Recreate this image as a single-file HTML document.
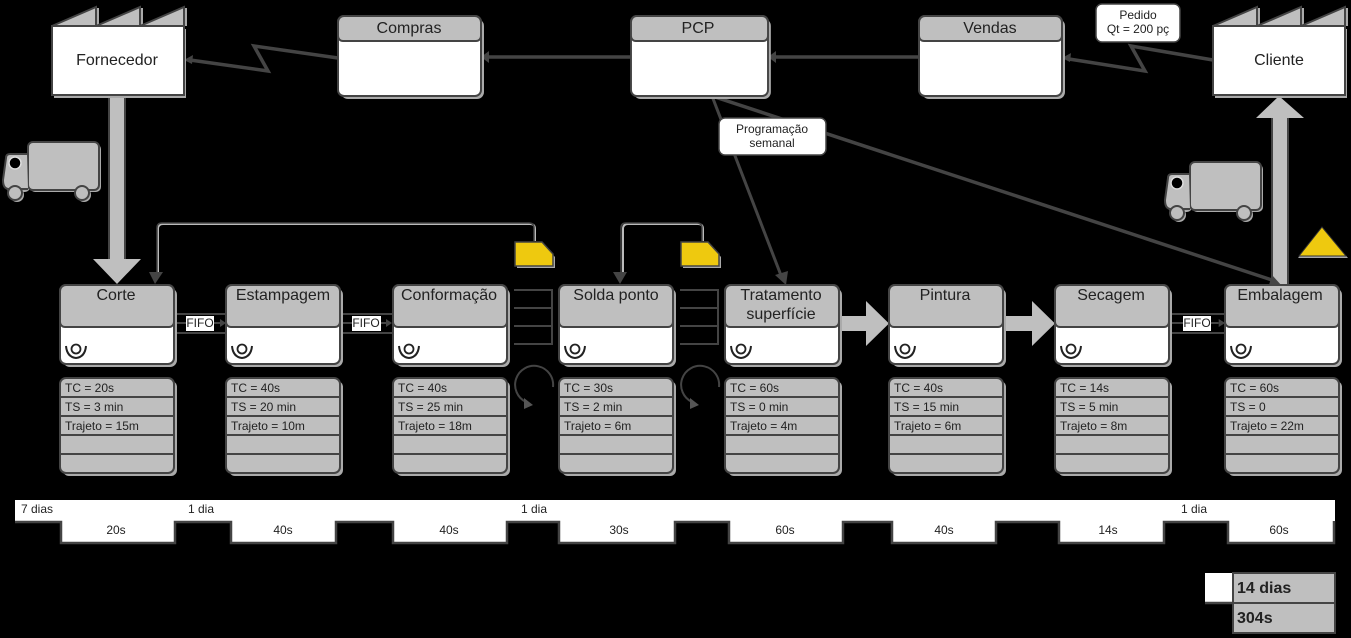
<!DOCTYPE html>
<html><head><meta charset="utf-8"><style>
html,body{margin:0;padding:0;background:#000;width:1351px;height:638px;overflow:hidden}
svg{display:block}
text{font-family:"Liberation Sans",sans-serif;fill:#222}
.t{font-size:16px;text-anchor:middle}
.d{font-size:12px}
.c{font-size:12px;text-anchor:middle}
.l{fill:none;stroke:#444;stroke-width:3.5}
.m{fill:none;stroke:#444;stroke-width:2}
</style></head><body>
<svg width="1351" height="638" viewBox="0 0 1351 638" xmlns="http://www.w3.org/2000/svg">
<defs>
<g id="proc">
<rect x="3" y="3" width="114" height="79" rx="7" fill="#aaa"/>
<rect x="0" y="0" width="114" height="79" rx="6" fill="#fff" stroke="#444" stroke-width="2"/>
<path d="M0 6a6 6 0 0 1 6-6h102a6 6 0 0 1 6 6v31a5 5 0 0 1-5 5H5a5 5 0 0 1-5-5z" fill="#bfbfbf" stroke="#444" stroke-width="2"/>
<path d="M6 61q1 11 10 12q9-1 10-12" fill="none" stroke="#222" stroke-width="2"/>
<circle cx="16" cy="64" r="4.500" fill="none" stroke="#222" stroke-width="1.800"/>
</g>
<g id="data">
<rect x="3" y="3" width="114" height="95" rx="6" fill="#aaa"/>
<rect x="0" y="0" width="114" height="95" rx="6" fill="#bfbfbf" stroke="#444" stroke-width="2"/>
<path d="M0 19h114M0 38h114M0 57h114M0 76h114" stroke="#444" stroke-width="2"/>
</g>
<g id="fact">
<rect x="2" y="23" width="132" height="69" fill="#aaa"/>
<rect x="44" y="2" width="3" height="18" fill="#aaa"/>
<rect x="88" y="2" width="3" height="18" fill="#aaa"/>
<rect x="132" y="2" width="3" height="18" fill="#aaa"/>
<path d="M0 20L44 1V20L88 1V20L132 1V20Z" fill="#bfbfbf" stroke="#444" stroke-width="2"/>
<rect x="0" y="20" width="132" height="69" fill="#fff" stroke="#444" stroke-width="2"/>
</g>
<g id="top">
<rect x="3" y="3" width="143" height="80" rx="7" fill="#aaa"/>
<rect x="0" y="0" width="143" height="80" rx="6" fill="#fff" stroke="#444" stroke-width="2"/>
<path d="M0 6a6 6 0 0 1 6-6h131a6 6 0 0 1 6 6v14a5 5 0 0 1-5 5H5a5 5 0 0 1-5-5z" fill="#bfbfbf" stroke="#444" stroke-width="2"/>
</g>
<g id="truck">
<g fill="#aaa" transform="translate(2,2)">
<rect x="25" y="0" width="71" height="48" rx="5"/><rect x="1" y="12" width="24" height="36" rx="5"/>
<circle cx="12" cy="51" r="7"/><circle cx="79" cy="51" r="7"/></g>
<rect x="25" y="0" width="71" height="48" rx="5" fill="#bfbfbf" stroke="#444" stroke-width="2"/>
<path d="M24 12H7q-4 0-4 4L0 38q0 9 6 9H25" fill="#bfbfbf" stroke="#444" stroke-width="2"/>
<circle cx="12" cy="21" r="6" fill="#000" stroke="#ddd" stroke-width="1.500"/>
<circle cx="12" cy="51" r="7" fill="#bfbfbf" stroke="#444" stroke-width="2"/>
<circle cx="79" cy="51" r="7" fill="#bfbfbf" stroke="#444" stroke-width="2"/>
</g>
<g id="kan">
<path d="M2 2H29L40 15V26H2Z" fill="#aaa"/>
<path d="M0 0H27L38 12V24H0Z" fill="#eec90f" stroke="#444" stroke-width="1.500"/>
</g>
<g id="sm"><path d="M0 0H38V54H0M0 18H38M0 36H38" class="m"/></g>
<g id="fifo"><path d="M0 0H52M0 9H46M0 19H52" class="m"/><path d="M46 5l6 4-6 4z" fill="#444"/></g>
<g id="circ"><path d="M19 0A19 19 0 1 0-8 15" fill="none" stroke="#444" stroke-width="2"/><path d="M-10 11L-1 18-10 22z" fill="#555"/></g>
<g id="push"><path d="M0 8H26V-7L49 15.500 26 38V23H0Z" fill="#bfbfbf"/></g>
</defs>

<rect width="1351" height="638" fill="#000"/>

<!-- connectors -->
<path d="M338 58L254 46 268 71 190 60" class="l"/><path d="M184 60l9-5-1 9z" fill="#444"/>
<path d="M1213 60L1131 46 1145 71 1069 59" class="l"/><path d="M1062 58l9-5-1 9z" fill="#444"/>
<path d="M631 57H485" class="l"/><path d="M481 57l8-6v12z" fill="#444"/>
<path d="M919 57H772" class="l"/><path d="M768 57l8-6v12z" fill="#444"/>

<!-- big arrows -->
<path d="M109 96H125V259H141L117 284 93 259H109Z" fill="#bfbfbf"/>
<path d="M109 96V259M125 96V259" stroke="#444" stroke-width="2"/>
<path d="M1272 285V118H1256L1279 96 1304 118H1288V285Z" fill="#bfbfbf"/>
<path d="M1272 285V118M1288 285V118" stroke="#444" stroke-width="2"/>

<path d="M712 96L1272 280" class="l"/>
<path d="M1282 286L1268 288 1272 275z" fill="#444"/>
<path d="M712 96L782 278" class="l" style="stroke-width:3"/>
<path d="M786 285L775 275 788 271z" fill="#444"/>

<!-- factories -->
<use href="#fact" x="52" y="6"/>
<use href="#fact" x="1213" y="6"/>
<text class="t" x="117" y="65">Fornecedor</text>
<text class="t" x="1279" y="65">Cliente</text>

<!-- top boxes -->
<use href="#top" x="338" y="16"/>
<g transform="translate(631,16) scale(.958,1)"><use href="#top"/></g>
<use href="#top" x="919" y="16"/>
<text class="t" x="409" y="33">Compras</text>
<text class="t" x="698" y="33">PCP</text>
<text class="t" x="990" y="33">Vendas</text>

<!-- notes -->
<rect x="1096" y="4" width="84" height="38" rx="6" fill="#fff" stroke="#444" stroke-width="1.500"/>
<text class="c" x="1138" y="19">Pedido</text>
<text class="c" x="1138" y="33">Qt = 200 pç</text>
<rect x="719" y="118" width="107" height="37" rx="6" fill="#fff" stroke="#444" stroke-width="1.500"/>
<text class="c" x="772" y="133">Programação</text>
<text class="c" x="772" y="147">semanal</text>

<!-- trucks -->
<use href="#truck" x="3" y="142"/>
<use href="#truck" x="1165" y="162"/>

<!-- feedback -->
<path d="M158 272V229q0-5 5-5H530q5 0 5 5V241" fill="none" stroke="#bbb" stroke-width="2"/>
<path d="M157 272V228q0-5 5-5H529q5 0 5 5V241" fill="none" stroke="#444" stroke-width="1.500"/>
<path d="M149 272H163L155 284Z" fill="#444"/>
<path d="M623 272V229q0-5 5-5H698q5 0 5 5V241" fill="none" stroke="#bbb" stroke-width="2"/>
<path d="M621 272V228q0-5 5-5H697q5 0 5 5V241" fill="none" stroke="#444" stroke-width="1.500"/>
<path d="M613 272H627L620 284Z" fill="#444"/>
<use href="#kan" x="515" y="242"/>
<use href="#kan" x="681" y="242"/>

<!-- inter-process -->
<use href="#sm" x="514" y="290"/>
<use href="#sm" x="680" y="290"/>
<use href="#fifo" x="174" y="314"/>
<use href="#fifo" x="340" y="314"/>
<g transform="translate(1169,314) scale(1.08,1)"><use href="#fifo"/></g>
<rect x="186" y="316" width="28" height="15" fill="#fff"/><text class="c" x="200" y="327">FIFO</text>
<rect x="352" y="316" width="29" height="15" fill="#fff"/><text class="c" x="366" y="327">FIFO</text>
<rect x="1183" y="316" width="28" height="15" fill="#fff"/><text class="c" x="1197" y="327">FIFO</text>
<use href="#push" x="840" y="308"/>
<use href="#push" x="1006" y="308"/>
<use href="#circ" x="534" y="387"/>
<use href="#circ" x="700" y="387"/>

<!-- processes -->
<use href="#proc" x="60" y="285"/><use href="#proc" x="226" y="285"/><use href="#proc" x="393" y="285"/><use href="#proc" x="559" y="285"/>
<use href="#proc" x="725" y="285"/><use href="#proc" x="889" y="285"/><use href="#proc" x="1055" y="285"/><use href="#proc" x="1225" y="285"/>
<text class="t" x="116" y="300">Corte</text>
<text class="t" x="283" y="300">Estampagem</text>
<text class="t" x="449" y="300">Conformação</text>
<text class="t" x="616" y="300">Solda ponto</text>
<text class="t" x="781" y="300">Tratamento</text>
<text class="t" x="781" y="319">superfície</text>
<text class="t" x="945" y="300">Pintura</text>
<text class="t" x="1111" y="300">Secagem</text>
<text class="t" x="1280" y="300">Embalagem</text>

<!-- data -->
<use href="#data" x="60" y="378"/><use href="#data" x="226" y="378"/><use href="#data" x="393" y="378"/><use href="#data" x="559" y="378"/>
<use href="#data" x="725" y="378"/><use href="#data" x="889" y="378"/><use href="#data" x="1055" y="378"/><use href="#data" x="1225" y="378"/>
<g class="d">
<text class="d" x="65" y="392">TC = 20s</text><text class="d" x="65" y="411">TS = 3 min</text><text class="d" x="65" y="430">Trajeto = 15m</text>
<text class="d" x="231" y="392">TC = 40s</text><text class="d" x="231" y="411">TS = 20 min</text><text class="d" x="231" y="430">Trajeto = 10m</text>
<text class="d" x="398" y="392">TC = 40s</text><text class="d" x="398" y="411">TS = 25 min</text><text class="d" x="398" y="430">Trajeto = 18m</text>
<text class="d" x="564" y="392">TC = 30s</text><text class="d" x="564" y="411">TS = 2 min</text><text class="d" x="564" y="430">Trajeto = 6m</text>
<text class="d" x="730" y="392">TC = 60s</text><text class="d" x="730" y="411">TS = 0 min</text><text class="d" x="730" y="430">Trajeto = 4m</text>
<text class="d" x="894" y="392">TC = 40s</text><text class="d" x="894" y="411">TS = 15 min</text><text class="d" x="894" y="430">Trajeto = 6m</text>
<text class="d" x="1060" y="392">TC = 14s</text><text class="d" x="1060" y="411">TS = 5 min</text><text class="d" x="1060" y="430">Trajeto = 8m</text>
<text class="d" x="1230" y="392">TC = 60s</text><text class="d" x="1230" y="411">TS = 0</text><text class="d" x="1230" y="430">Trajeto = 22m</text>
</g>

<!-- triangle -->
<path d="M1298 258L1323 229 1348 258Z" fill="#aaa"/>
<path d="M1299 256L1322 227 1346 256Z" fill="#eec90f" stroke="#333" stroke-width="1"/>

<!-- timeline -->
<path d="M15 500H1335V543H1228V522H1164V543H1059V522H996V543H892V522H843V543H729V522H675V543H559V522H507V543H393V522H336V543H231V522H175V543H61V522H15Z" fill="#fff"/>
<path d="M15 522H61V543H175V522H231V543H336V522H393V543H507V522H559V543H675V522H729V543H843V522H892V543H996V522H1059V543H1164V522H1228V543H1334V521" fill="none" stroke="#444" stroke-width="2.500"/>
<text class="d" x="21" y="513">7 dias</text>
<text class="c" x="201" y="513">1 dia</text>
<text class="c" x="534" y="513">1 dia</text>
<text class="c" x="1194" y="513">1 dia</text>
<text class="c" x="116" y="534">20s</text><text class="c" x="283" y="534">40s</text><text class="c" x="449" y="534">40s</text><text class="c" x="619" y="534">30s</text>
<text class="c" x="785" y="534">60s</text><text class="c" x="944" y="534">40s</text><text class="c" x="1108" y="534">14s</text><text class="c" x="1279" y="534">60s</text>

<!-- summary -->
<rect x="1205" y="573" width="28" height="30" fill="#fff"/>
<rect x="1233" y="573" width="102" height="30" fill="#bfbfbf" stroke="#444" stroke-width="2"/>
<rect x="1233" y="603" width="102" height="30" fill="#bfbfbf" stroke="#444" stroke-width="2"/>
<path d="M1205 603H1233" stroke="#444" stroke-width="2.500"/>
<text x="1237" y="593" font-size="16" font-weight="bold">14 dias</text>
<text x="1237" y="623" font-size="16" font-weight="bold">304s</text>
</svg>
</body></html>
